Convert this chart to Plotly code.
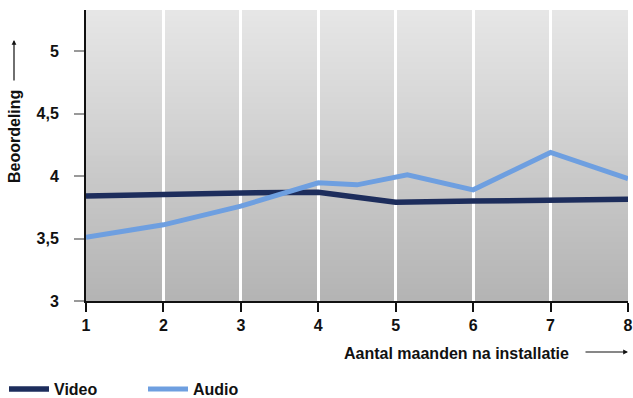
import plotly.graph_objects as go

# Months after installation and average rating per series
months = [1, 2, 3, 4, 5, 6, 7, 8]
video_rating = [3.84, 3.855, 3.865, 3.87, 3.79, 3.80, 3.81, 3.815]

audio_months = [1, 2, 3, 4, 4.5, 5.15, 6, 7, 8]
audio_rating = [3.51, 3.61, 3.76, 3.946, 3.93, 4.01, 3.89, 4.19, 3.98]

y_tickvals = [3, 3.5, 4, 4.5, 5]
y_ticktext = ["3", "3,5", "4", "4,5", "5"]
x_ticktext = [str(m) for m in months]

Y_MIN, Y_MAX = 3, 5.33
X_MIN, X_MAX = 1, 8

FONT = "Liberation Sans"
INK = "#111"
NAVY = "#1d2d5c"
LIGHT_BLUE = "#6e9fe0"

fig = go.Figure()

fig.add_trace(go.Scatter(
    x=months, y=video_rating, mode="lines", name="Video",
    line=dict(color=NAVY, width=5.5),
))
fig.add_trace(go.Scatter(
    x=audio_months, y=audio_rating, mode="lines", name="Audio",
    line=dict(color=LIGHT_BLUE, width=5),
))

# Vertical grey gradient behind the gridlines: light at the top, darker at the bottom.
# Each band runs from its own lower edge up to the top, so later (lighter) bands
# overlap earlier ones and no seams appear between them.
steps = 50
top_rgb = (230, 230, 230)
bot_rgb = (180, 180, 180)
shapes = []
for i in range(steps):
    t = i / (steps - 1)
    r, g, b = (round(bot_rgb[k] + (top_rgb[k] - bot_rgb[k]) * t) for k in range(3))
    y0 = Y_MIN + (Y_MAX - Y_MIN) * i / steps
    shapes.append(dict(
        type="rect", xref="x", yref="y", x0=X_MIN, x1=X_MAX, y0=y0, y1=Y_MAX,
        fillcolor=f"rgb({r},{g},{b})", line=dict(width=0), layer="below",
    ))

L, R, T, B = 86, 5, 10, 97
W, H = 633, 398
plot_w = W - L - R
plot_h = H - T - B


def px_x(px):
    return (px - L) / plot_w


def px_y(py):
    return (H - B - py) / plot_h


title_font = dict(family=FONT, size=16, color=INK, weight="bold")

annotations = [
    # y-axis title with upward arrow
    dict(text="Beoordeling", textangle=-90, xref="paper", yref="paper",
         x=px_x(14), y=px_y(137), xanchor="center", yanchor="middle",
         showarrow=False, font=title_font),
    dict(text="", xref="paper", yref="paper", x=px_x(14), y=px_y(40),
         ax=0, ay=42, showarrow=True, arrowhead=2, arrowsize=0.8,
         arrowwidth=1.2, arrowcolor=INK),
    # x-axis title with rightward arrow
    dict(text="Aantal maanden na installatie", xref="paper", yref="paper",
         x=px_x(456), y=px_y(353), xanchor="center", yanchor="middle",
         showarrow=False, font=title_font),
    dict(text="", xref="paper", yref="paper", x=px_x(628), y=px_y(352),
         ax=-44, ay=0, showarrow=True, arrowhead=2, arrowsize=0.8,
         arrowwidth=1.2, arrowcolor=INK),
]

fig.update_layout(
    width=W, height=H,
    margin=dict(l=L, r=R, t=T, b=B, pad=0, autoexpand=False),
    paper_bgcolor="white",
    plot_bgcolor="white",
    font=dict(family=FONT, size=16, color=INK),
    shapes=shapes,
    annotations=annotations,
    showlegend=True,
    legend=dict(
        orientation="h", xref="container", yref="container",
        x=4 / W, y=1 - 389 / H, xanchor="left", yanchor="middle",
        entrywidth=84, entrywidthmode="pixels", itemwidth=40,
        font=dict(family=FONT, size=16, color=INK, weight="bold"),
        bgcolor="rgba(0,0,0,0)",
    ),
)

fig.update_xaxes(
    range=[X_MIN, X_MAX], tickvals=months, ticktext=x_ticktext,
    showgrid=True, gridcolor="white", gridwidth=2.5,
    showline=True, linecolor=INK, linewidth=2,
    ticks="outside", ticklen=9, tickwidth=1.5, tickcolor=INK,
    tickfont=dict(family=FONT, size=16, color=INK, weight="bold"),
    zeroline=False, fixedrange=True,
)
fig.update_yaxes(
    range=[Y_MIN, Y_MAX], tickvals=y_tickvals, ticktext=y_ticktext,
    showgrid=False,
    showline=True, linecolor=INK, linewidth=2,
    ticks="outside", ticklen=10, tickwidth=1.5, tickcolor="#999",
    ticklabelstandoff=12,
    tickfont=dict(family=FONT, size=16, color=INK, weight="bold"),
    zeroline=False, fixedrange=True,
)

fig.write_html("out.html")
